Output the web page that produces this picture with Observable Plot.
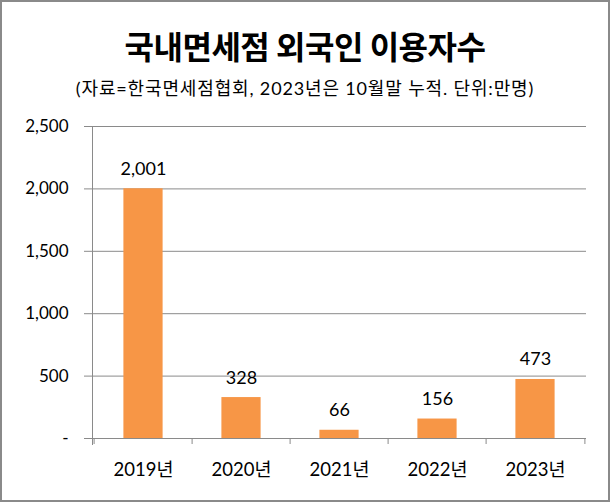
<!DOCTYPE html>
<html>
<head>
<meta charset="utf-8">
<script src="https://cdn.jsdelivr.net/npm/d3@7"></script>
<script src="https://cdn.jsdelivr.net/npm/@observablehq/plot@0.6"></script>
<style>
  html, body { margin: 0; padding: 0; background: #fff; }
  #wrap {
    position: relative;
    width: 610px; height: 502px;
    box-sizing: border-box;
    border: 2px solid #8a8a8a;
    background: #fff;
    overflow: hidden;
  }
  #title {
    height: 70px; line-height: 86px;
    text-align: center;
    font-family: "Noto Sans CJK KR", sans-serif;
    font-weight: bold; font-size: 32px; color: #000;
    letter-spacing: -0.5px;
  }
  #subtitle {
    height: 34px; line-height: 32px;
    text-align: center;
    font-family: Lato, "Noto Sans CJK KR", sans-serif;
    font-size: 18px; color: #000;
    letter-spacing: 0.85px;
  }
  #chart svg { display: block; }
</style>
</head>
<body>
<div id="wrap">
  <div id="title"></div>
  <div id="subtitle"></div>
  <div id="chart"></div>
</div>
<script>
const titleText = "국내면세점 외국인 이용자수";
const subtitleText = "(자료=한국면세점협회, 2023년은 10월말 누적. 단위:만명)";
const years = ["2019년", "2020년", "2021년", "2022년", "2023년"];
const visitors = [2001, 328, 66, 156, 473];
const yTicks = [0, 500, 1000, 1500, 2000, 2500];

document.getElementById("title").textContent = titleText;
document.getElementById("subtitle").textContent = subtitleText;

const data = years.map((y, i) => ({year: y, value: visitors[i]}));
const fmt = d3.format(",");
const font = "Lato, 'Noto Sans CJK KR', sans-serif";

const W = 606, H = 394;
const mL = 82, mR = 22, inL = 8;
const band = (W - mL - mR - inL) / years.length;
const barW = 40;
const gridColor = "#8a8a8a";

const chart = Plot.plot({
  width: W,
  height: H,
  marginTop: 20,
  marginBottom: 62,
  marginLeft: mL,
  marginRight: mR,
  style: {fontFamily: font, fontSize: "17px", color: "#000", background: "#fff"},
  x: {domain: years, padding: 0, insetLeft: inL, label: null},
  y: {domain: [0, 2500], ticks: yTicks, label: null},
  marks: [
    Plot.ruleY(yTicks.filter(d => d > 0), {stroke: gridColor, strokeWidth: 1}),
    Plot.barY(data, {
      x: "year", y: "value", fill: "#F79646",
      insetLeft: (band - barW) / 2, insetRight: (band - barW) / 2
    }),
    Plot.ruleY([0], {stroke: gridColor, strokeWidth: 1}),
    Plot.frame({anchor: "left", stroke: gridColor, insetLeft: inL, insetBottom: -6}),
    Plot.ruleX(years, {x: d => d, dx: -band / 2, y1: 0, y2: 0, insetBottom: -6, stroke: gridColor}),
    Plot.ruleX([years[years.length - 1]], {x: d => d, dx: band / 2, y1: 0, y2: 0, insetBottom: -6, stroke: gridColor}),
    Plot.text(data, {
      x: "year", y: "value", text: d => fmt(d.value),
      dy: -14, fontSize: 18, fill: "#000", lineAnchor: "bottom"
    }),
    Plot.axisY({
      ticks: yTicks, tickSize: 0, tickPadding: 16,
      tickFormat: d => d === 0 ? "-" : fmt(d),
      fontSize: 17, label: null
    }),
    Plot.axisX({
      tickSize: 0, tickPadding: 24, fontSize: 18.5, label: null
    })
  ]
});
document.getElementById("chart").appendChild(chart);
</script>
</body>
</html>
